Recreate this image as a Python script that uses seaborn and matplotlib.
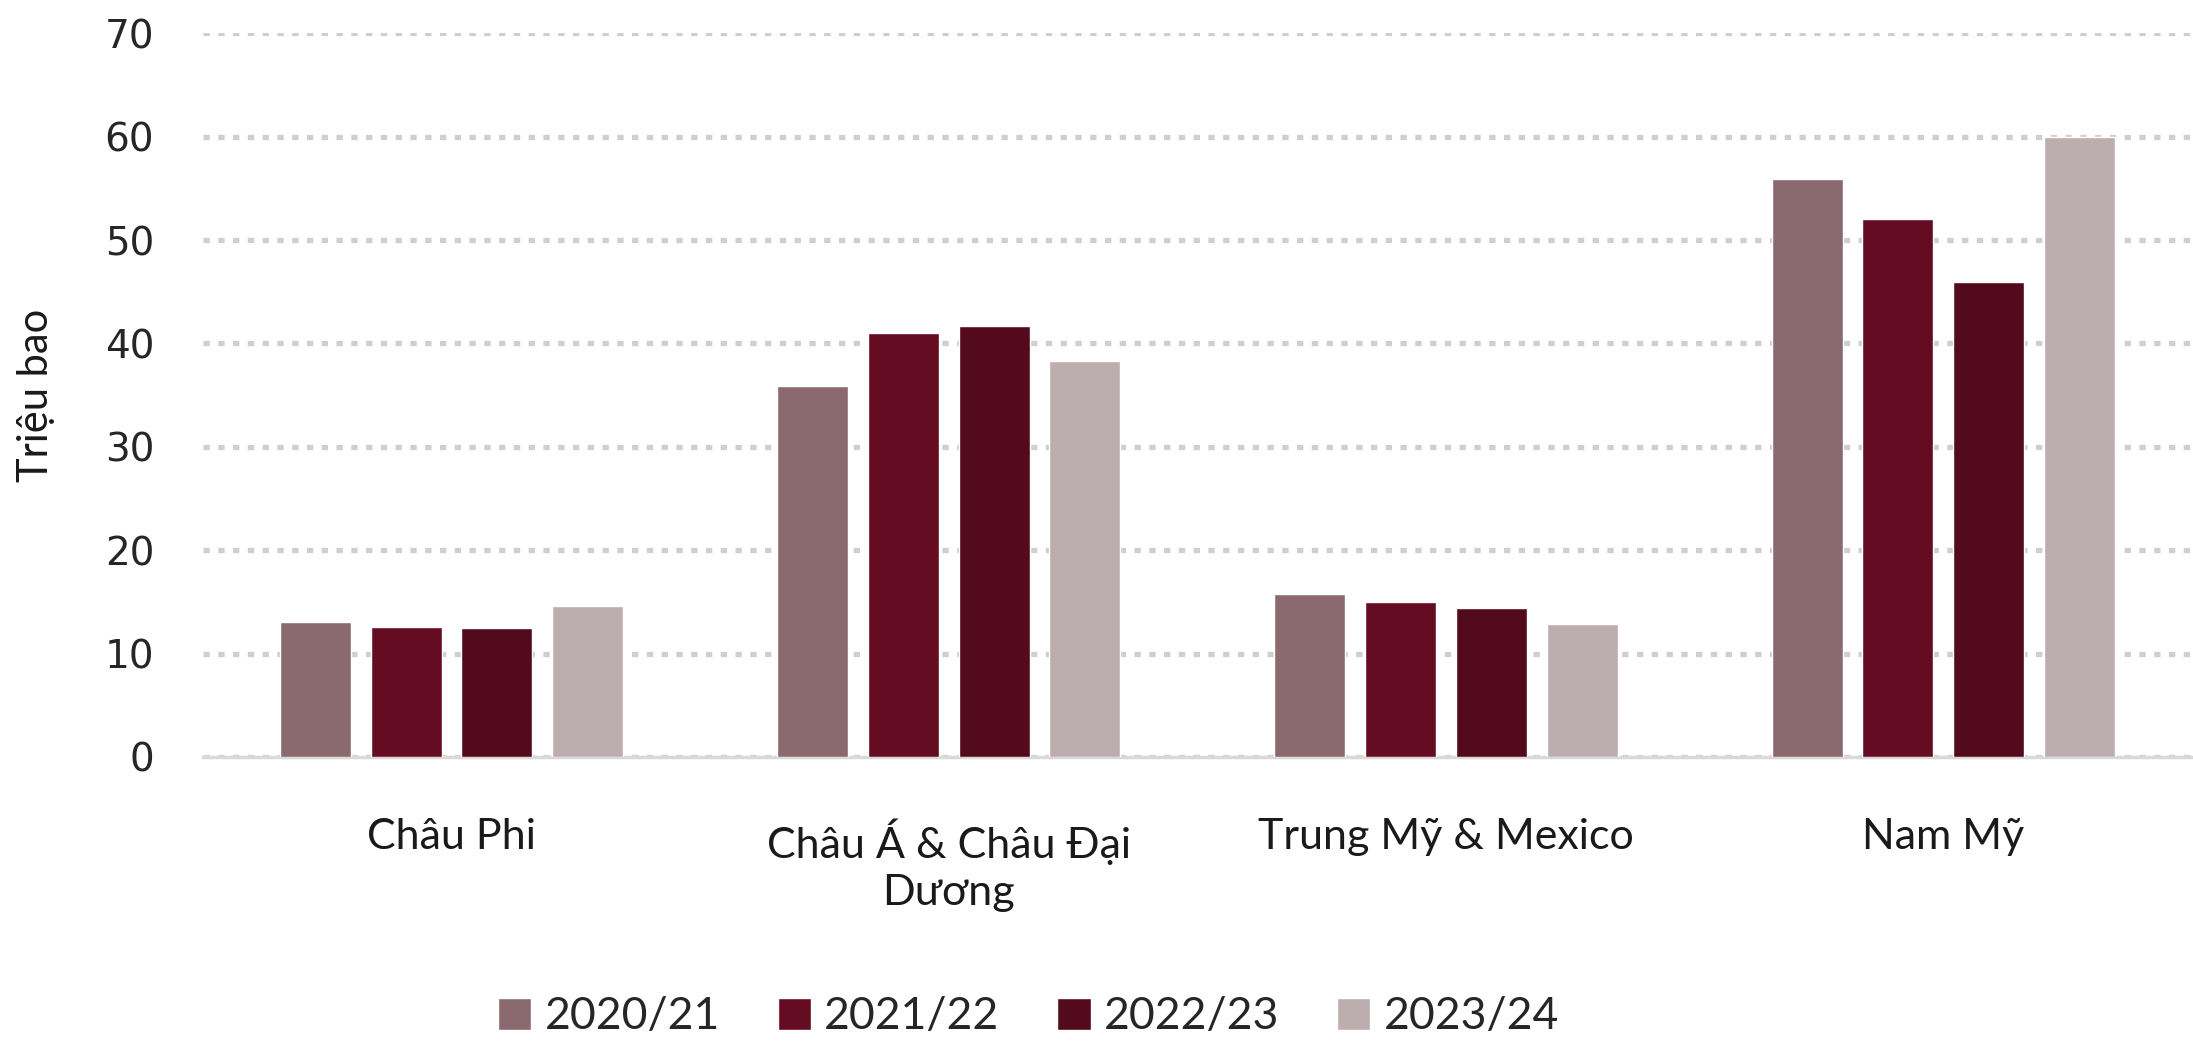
import pandas as pd
import seaborn as sns
import matplotlib.pyplot as plt

regions = ['Châu Phi', 'Châu Á & Châu Đại\nDương', 'Trung Mỹ & Mexico', 'Nam Mỹ']
seasons = ['2020/21', '2021/22', '2022/23', '2023/24']
v2020 = [13.1, 35.9, 15.8, 55.9]
v2021 = [12.6, 41.0, 15.0, 52.0]
v2022 = [12.5, 41.7, 14.4, 45.9]
v2023 = [14.6, 38.3, 12.9, 60.0]
colors = ['#8B6A6F', '#650C22', '#520A1C', '#BCAEAE']

rows = []
for s, vals in zip(seasons, [v2020, v2021, v2022, v2023]):
    for r, v in zip(regions, vals):
        rows.append({'region': r, 'season': s, 'value': v})
df = pd.DataFrame(rows)

sns.set_style('white')
plt.rcParams['font.family'] = ['Lato', 'DejaVu Sans']

fig = plt.figure(figsize=(21.93, 10.44), dpi=100)
ax = fig.add_axes([0.0925, 0.275, 0.907, 0.693])

sns.barplot(data=df, x='region', y='value', hue='season', palette=colors,
            saturation=1, width=0.73, gap=0.216, errorbar=None, ax=ax, zorder=3)

ax.set_ylim(0, 70)
ax.set_xlim(-0.5, 3.5)
ax.set_yticks(range(0, 71, 10))
ax.yaxis.grid(True, color='#CFCFCF', linestyle=(0, (1.2, 1.6)), linewidth=3.8, zorder=0)
ax.xaxis.grid(False)
for sp in ['top', 'right', 'left']:
    ax.spines[sp].set_visible(False)
ax.spines['bottom'].set_color('#D9D9D9')
ax.spines['bottom'].set_linewidth(2.5)
ax.tick_params(axis='both', length=0)
ax.tick_params(axis='y', pad=35)
ax.tick_params(axis='x', pad=44)
for t in ax.get_yticklabels():
    t.set_fontfamily('DejaVu Sans')
    t.set_fontsize(28)
    t.set_color('#262626')
for t in ax.get_xticklabels():
    t.set_fontsize(31)
    t.set_color('#1a1a1a')
    t.set_linespacing(1.3)
ax.set_xlabel('')
ax.set_ylabel('Triệu bao', fontsize=30, color='#1a1a1a', labelpad=36)

handles, labels = ax.get_legend_handles_labels()
ax.get_legend().remove()
fig.legend(handles, labels, loc='center', bbox_to_anchor=(0.469, 0.026), ncol=4,
           frameon=False, fontsize=32, handlelength=0.75, handleheight=0.75,
           handletextpad=0.3, columnspacing=1.3)

fig.savefig('out.png', dpi=100)
